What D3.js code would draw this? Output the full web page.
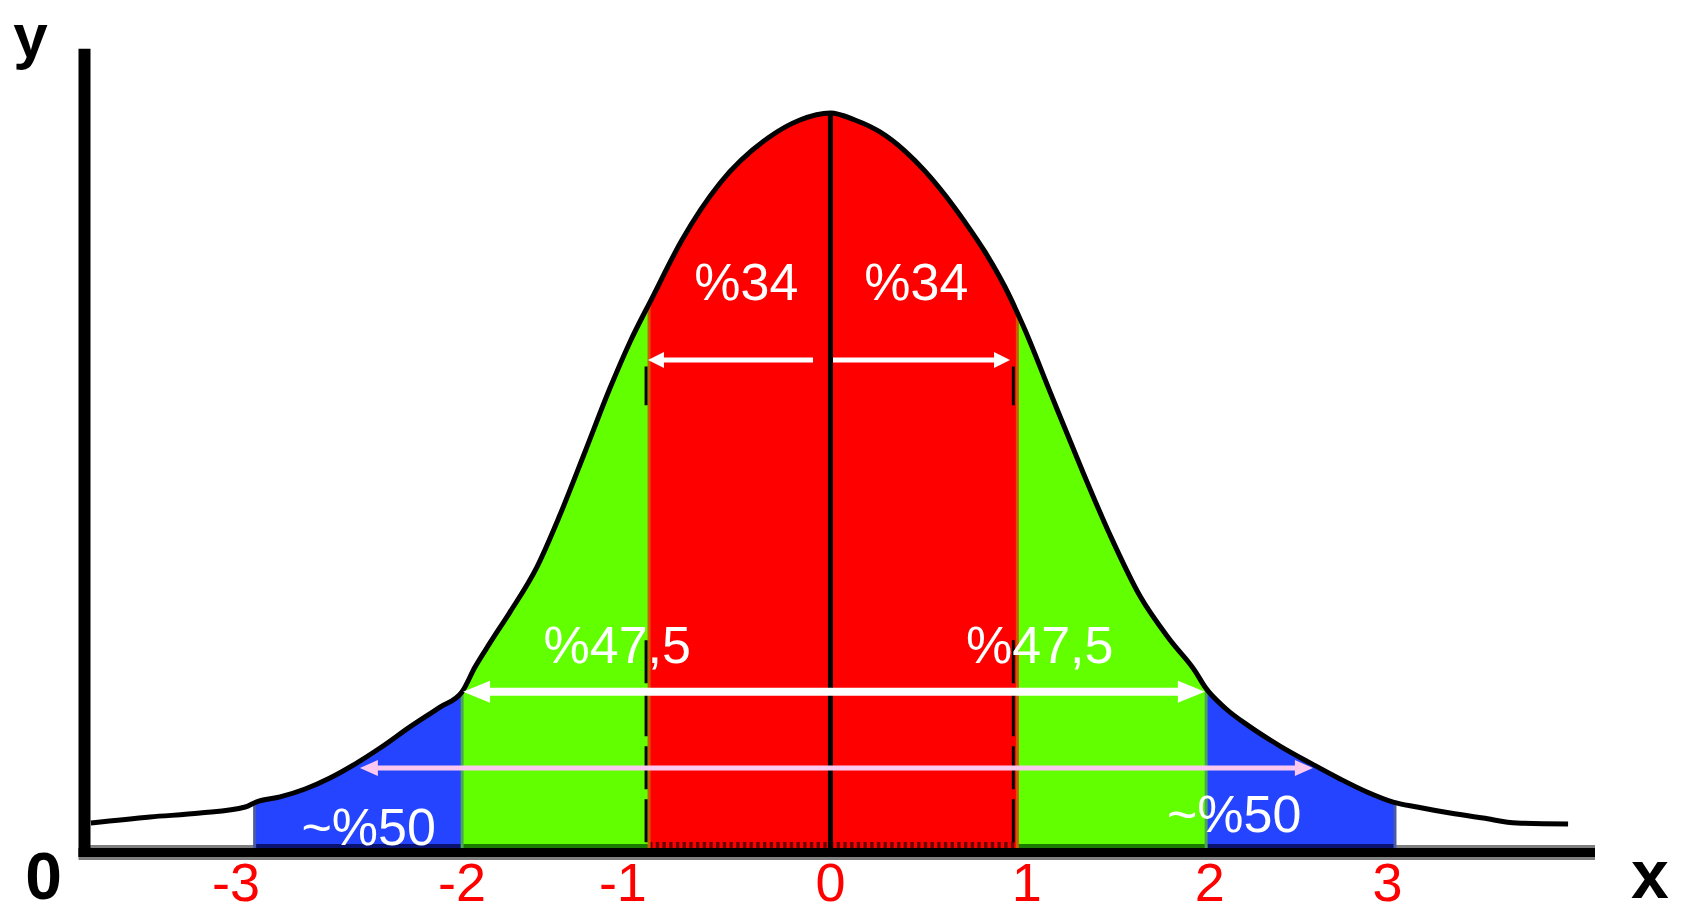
<!DOCTYPE html>
<html><head><meta charset="utf-8">
<script src="https://cdn.jsdelivr.net/npm/d3@7"></script>
<style>
html,body{margin:0;padding:0;background:#fff;overflow:hidden}
svg{display:block}
text{font-family:"Liberation Sans",Arial,Helvetica,sans-serif}
</style></head><body>
<svg id="chart" width="1686" height="914"></svg>
<script>
// ---- data ----
const curveX = [-3.956,-3.639,-3.371,-3.130,-3.072,-2.944,-2.810,-2.677,-2.543,-2.409,-2.249,-2.088,-1.971,-1.901,-1.821,-1.714,-1.570,-1.447,-1.313,-1.179,-1.072,-0.954,-0.794,-0.590,-0.334,-0.163,0,
  0.131,0.265,0.399,0.506,0.613,0.720,0.827,0.934,1.041,1.175,1.335,1.496,1.656,1.817,1.951,2.004,2.111,2.245,2.405,2.566,2.726,2.870,3.010,3.138,3.315,3.491,3.673,3.946];
const curveY = [0.0136,0.0169,0.0190,0.0223,0.0250,0.0278,0.0321,0.0381,0.0457,0.0544,0.0659,0.0767,0.0849,0.0985,0.1116,0.1284,0.1529,0.1812,0.2155,0.2503,0.2754,0.2993,0.3309,0.3619,0.3864,0.3962,0.4000,
  0.3962,0.3897,0.3793,0.3684,0.3554,0.3406,0.3244,0.3053,0.2819,0.2482,0.2084,0.1703,0.1371,0.1132,0.0963,0.0876,0.0762,0.0659,0.0555,0.0463,0.0376,0.0305,0.0250,0.0223,0.0190,0.0163,0.0136,0.0131];

const regionEdges = [-3.08, -1.97, -0.97, 0, 1.0, 2.01, 3.02];
const regionBand  = ["tail","mid","core","core","mid","tail"];

const tickLabels = ["-3","-2","-1","0","1","2","3"];
const tickLabelPos = [-3.18,-1.97,-1.11,0,1.05,2.03,2.98];

const annText = ["%34","%34","%47,5","%47,5","~%50","~%50"];
const annX = [-0.45,0.46,-1.14,1.12,-2.47,2.16];
const annY = [0.298,0.298,0.1007,0.1007,0.0016,0.0087];

const arrowFrom = [-0.093, 0.014, -1.965, -2.517];
const arrowTo   = [-0.976, 0.961, 2.003, 2.581];
const arrowAt   = [0.2656, 0.2656, 0.085, 0.0435];
const arrowBoth = [false, false, true, true];
const arrowKind = ["small","small","big","pink"];

// ---- styles ----
const bandColor = {tail:"#2444ff", mid:"#62ff00", core:"#ff0000"};
const bandBottom = {tail:"#0a1470", mid:"#1b7a00", core:null};
const arrowStyle = {
  small:{color:"#ffffff", w:5, len:16, half:8},
  big:{color:"#ffffff", w:8, len:27, half:11},
  pink:{color:"#fbc9ef", w:5, len:18, half:8}
};

const svg = d3.select("#chart");
const x = d3.scaleLinear().domain([-3.99, 4.09]).range([84.5, 1595]);
const y = d3.scaleLinear().domain([0, 0.4]).range([848, 113]);

const pts = curveX.map((v,i)=>[v, curveY[i]]);
const area = d3.area().x(d=>x(d[0])).y0(y(0)).y1(d=>y(d[1])).curve(d3.curveMonotoneX);
const line = d3.line().x(d=>x(d[0])).y(d=>y(d[1])).curve(d3.curveMonotoneX);

const defs = svg.append("defs");
defs.append("clipPath").attr("id","under").append("path").attr("d", area(pts));
regionBand.forEach((b,i)=>{
  defs.append("clipPath").attr("id","reg"+i).append("rect")
    .attr("x", x(regionEdges[i])).attr("width", x(regionEdges[i+1]) - x(regionEdges[i]))
    .attr("y", 0).attr("height", 914);
});

// grey baseline shadow
svg.append("line").attr("x1", x.range()[0]).attr("x2", x.range()[1])
  .attr("y1", y(0)-1.5).attr("y2", y(0)-1.5).attr("stroke","#7f7f7f").attr("stroke-width",3);

// fills
const fills = svg.append("g");
regionBand.forEach((b,i)=>{
  fills.append("path").attr("d", area(pts)).attr("fill", bandColor[b])
    .attr("clip-path","url(#reg"+i+")");
  if (bandBottom[b]) {
    fills.append("rect").attr("x", x(regionEdges[i])).attr("width", x(regionEdges[i+1]) - x(regionEdges[i]))
      .attr("y", y(0)-4).attr("height", 4).attr("fill", bandBottom[b]);
  }
});

// decorations clipped under curve
const deco = svg.append("g").attr("clip-path","url(#under)");
deco.append("line").attr("x1", x(regionEdges[2])).attr("x2", x(regionEdges[4]))
  .attr("y1", y(0)-3).attr("y2", y(0)-3).attr("stroke","#6a0000").attr("stroke-width",6)
  .attr("stroke-dasharray","3.4,3.3");
[[regionEdges[2],"#cf5a00",3],[regionEdges[4],"#cf5a00",3],
 [regionEdges[1],"#4aa556",3],[regionEdges[5],"#4aa556",3],
 [regionEdges[0],"#4a5aa8",3],[regionEdges[6],"#4a5aa8",3]].forEach(([e,c,w])=>{
  deco.append("line").attr("x1", x(e)).attr("x2", x(e)).attr("y1", y(0)).attr("y2", 0)
    .attr("stroke", c).attr("stroke-width", w);
});
[[regionEdges[2], -3],[regionEdges[4], -4]].forEach(([e,dx])=>{
  deco.append("line").attr("x1", x(e)+dx).attr("x2", x(e)+dx)
    .attr("y1", y(0.113)).attr("y2", y(0))
    .attr("stroke","#000").attr("stroke-width",3).attr("stroke-dasharray","43,10");
  deco.append("line").attr("x1", x(e)+dx).attr("x2", x(e)+dx)
    .attr("y1", y(0.262)).attr("y2", y(0.241))
    .attr("stroke","#000").attr("stroke-width",3);
});

// centre line
svg.append("line").attr("x1", x(0)).attr("x2", x(0)).attr("y1", y(0.4)).attr("y2", y(0))
  .attr("stroke","#000").attr("stroke-width",5);

// curve
svg.append("path").attr("d", line(pts)).attr("fill","none").attr("stroke","#000")
  .attr("stroke-width",5).attr("stroke-linejoin","round");

// arrows
const ag = svg.append("g");
arrowFrom.forEach((a,i)=>{
  const s = arrowStyle[arrowKind[i]];
  const xa = x(a), xb = x(arrowTo[i]), yy = y(arrowAt[i]);
  const dir = xb > xa ? 1 : -1;
  const x1 = arrowBoth[i] ? xa + dir*(s.len-2) : xa;
  const x2 = xb - dir*(s.len-2);
  ag.append("line").attr("x1", x1).attr("x2", x2).attr("y1", yy).attr("y2", yy)
    .attr("stroke", s.color).attr("stroke-width", s.w);
  const head = (tip, d) => {
    ag.append("path").attr("d", `M${tip},${yy} L${tip - d*s.len},${yy - s.half} L${tip - d*s.len},${yy + s.half} Z`)
      .attr("fill", s.color);
  };
  head(xb, dir);
  if (arrowBoth[i]) head(xa, -dir);
});

// annotations
svg.append("g").selectAll("text").data(annText).join("text")
  .attr("x", (d,i)=>x(annX[i])).attr("y", (d,i)=>y(annY[i]))
  .attr("text-anchor","middle").attr("fill","#fff").attr("font-size",52)
  .text(d=>d);

// axes
svg.append("line").attr("x1", x.range()[0]).attr("x2", x.range()[0])
  .attr("y1", y(0.435)).attr("y2", 857).attr("stroke","#000").attr("stroke-width",12);
svg.append("line").attr("x1", x.range()[0]-6).attr("x2", x.range()[1])
  .attr("y1", 852.5).attr("y2", 852.5).attr("stroke","#000").attr("stroke-width",9);
svg.append("line").attr("x1", x.range()[0]-6).attr("x2", x.range()[1])
  .attr("y1", 858.5).attr("y2", 858.5).attr("stroke","#808080").attr("stroke-width",3);

// tick labels
svg.append("g").selectAll("text").data(tickLabels).join("text")
  .attr("x", (d,i)=>x(tickLabelPos[i])).attr("y", 901)
  .attr("text-anchor","middle").attr("fill","#ff0000").attr("font-size",54)
  .text(d=>d);

// axis names
svg.append("text").attr("x", 30.5).attr("y", 57).attr("text-anchor","middle")
  .attr("font-size",62).attr("font-weight","bold").attr("fill","#000").text("y");
svg.append("text").attr("x", 43.5).attr("y", 899).attr("text-anchor","middle")
  .attr("font-size",66).attr("font-weight","bold").attr("fill","#000").text("0");
svg.append("text").attr("x", 1650).attr("y", 898).attr("text-anchor","middle")
  .attr("font-size",68).attr("font-weight","bold").attr("fill","#000").text("x");
</script>
</body></html>
